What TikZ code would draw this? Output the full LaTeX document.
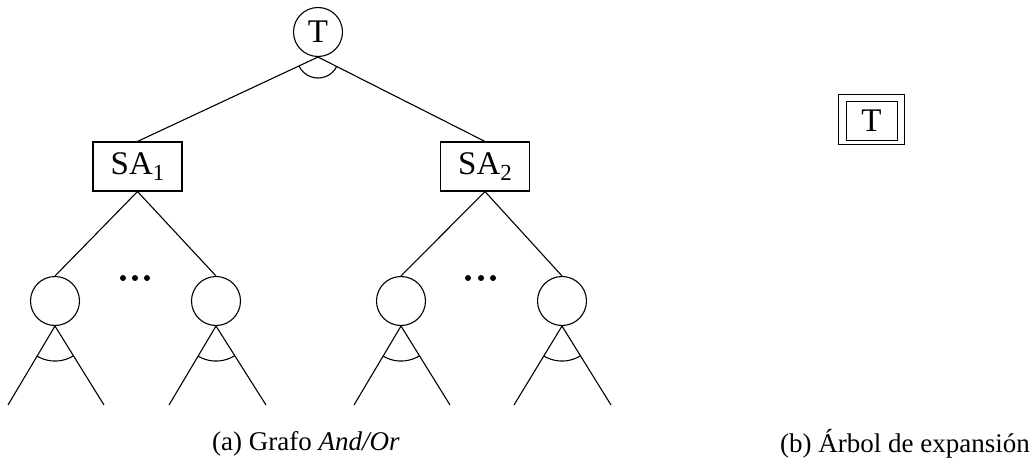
\documentclass[tikz,border=0pt]{standalone}
\usepackage{fontspec}
\setmainfont{Liberation Serif}
\newcommand{\subidx}[1]{\raisebox{-0.35ex}{\fontsize{23}{26}\selectfont #1}}
\begin{document}
\begin{tikzpicture}[x=1pt,y=-1pt,
  line width=1.1pt,
  every node/.style={font=\fontsize{33}{38}\selectfont},
  ornode/.style={draw,circle,inner sep=0pt,minimum size=49pt},
  andnode/.style={draw,rectangle,inner sep=0pt,minimum width=89pt,minimum height=49pt},
  caption/.style={font=\fontsize{27}{32}\selectfont,inner sep=0pt},
  dot/.style={fill=black,circle,inner sep=0pt,minimum size=6pt}]
\useasboundingbox (0,0) rectangle (1034,476);

% (a) And/Or graph
\node[ornode] (T) at (318,32) {T};
\node[andnode] (SA1) at (137.5,166.5) {SA\subidx{1}};
\node[andnode] (SA2) at (485,166.5) {SA\subidx{2}};

\node[ornode] (L1) at (55,301) {};
\node[ornode] (L2) at (216,301) {};
\node[ornode] (L3) at (401,301) {};
\node[ornode] (L4) at (562,301) {};

\coordinate (L1a) at (8,405);   \coordinate (L1b) at (104,405);
\coordinate (L2a) at (169,405); \coordinate (L2b) at (266,405);
\coordinate (L3a) at (354,405); \coordinate (L3b) at (450,405);
\coordinate (L4a) at (514,405); \coordinate (L4b) at (611,405);

\draw (T.south) -- (SA1.north);
\draw (T.south) -- (SA2.north);
\draw (SA1.south) -- (L1.north);
\draw (SA1.south) -- (L2.north);
\draw (SA2.south) -- (L3.north);
\draw (SA2.south) -- (L4.north);

\foreach \n in {L1,L2,L3,L4}{
  \draw (\n.south) -- (\n a);
  \draw (\n.south) -- (\n b);
  % and-arc joining the two branches
  \begin{scope}
    \clip (\n.south) -- (\n a) -- (\n b) -- cycle;
    \draw (\n.south) circle[radius=35];
  \end{scope}
}
\begin{scope}
  \clip (T.south) -- (SA1.north) -- (SA2.north) -- cycle;
  \draw (T.south) circle[radius=21];
\end{scope}

% ellipses between sibling branches
\node[dot] (d1) at (123,278) {};
\node[dot] (d2) at (135,278) {};
\node[dot] (d3) at (147,278) {};
\node[dot] (d4) at (468,278) {};
\node[dot] (d5) at (481,278) {};
\node[dot] (d6) at (493,278) {};

% (b) expansion tree
\node[draw,line width=0.9pt,rectangle,inner sep=0pt,minimum width=66pt,minimum height=50pt] (Tout) at (871,119) {};
\node[draw,line width=0.9pt,rectangle,inner sep=0pt,minimum width=51pt,minimum height=39pt] (Tin) at (871.5,120.5) {T};

% captions
\node[caption] (capa) at (306,444) {(a) Grafo \textit{And/Or}};
\node[caption] (capb) at (905,444) {(b) Árbol de expansión};
\end{tikzpicture}
\end{document}
